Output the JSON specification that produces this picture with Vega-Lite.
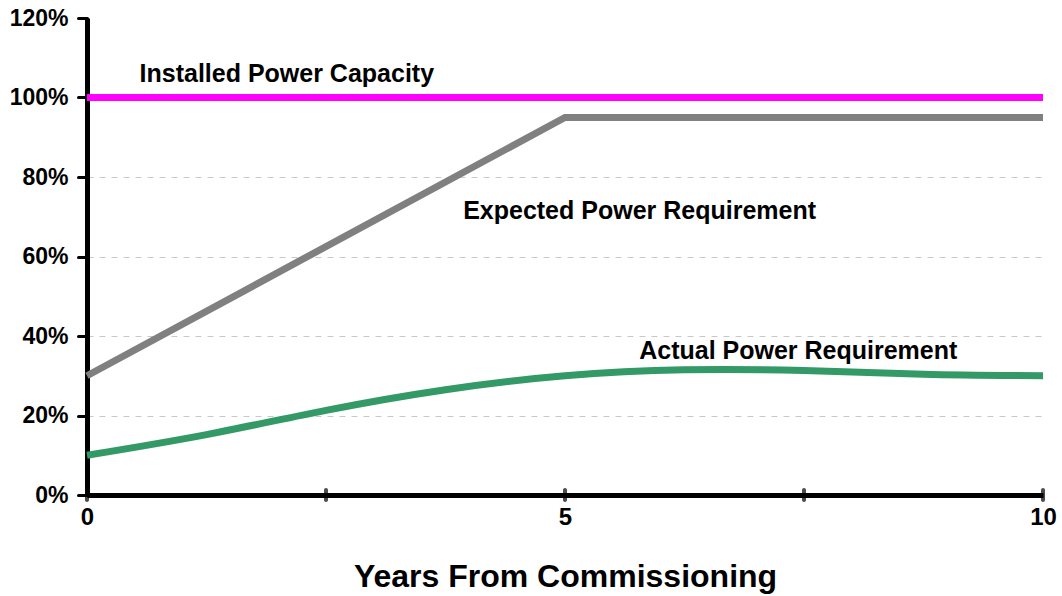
{
  "$schema": "https://vega.github.io/schema/vega-lite/v6.json",
  "autosize": "none",
  "width": 956,
  "height": 477,
  "padding": {"left": 87, "top": 18, "right": 19, "bottom": 101},
  "background": "white",
  "config": {
    "view": {"stroke": null},
    "font": "Liberation Sans"
  },
  "datasets": {
    "lines": [
      {"series": "Installed", "x": 0, "y": 100},
      {"series": "Installed", "x": 10, "y": 100},
      {"series": "Expected", "x": 0, "y": 30},
      {"series": "Expected", "x": 5, "y": 95},
      {"series": "Expected", "x": 10, "y": 95}
    ],
    "actual": [
      {"series": "Actual", "x": 0, "y": 10},
      {"series": "Actual", "x": 1.25, "y": 15.2},
      {"series": "Actual", "x": 2.5, "y": 21.3},
      {"series": "Actual", "x": 3.75, "y": 26.5},
      {"series": "Actual", "x": 5, "y": 30},
      {"series": "Actual", "x": 6.25, "y": 31.5},
      {"series": "Actual", "x": 7.5, "y": 31.3},
      {"series": "Actual", "x": 8.75, "y": 30.4},
      {"series": "Actual", "x": 10, "y": 30}
    ],
    "labels": [
      {"x": 2.09, "y": 106, "text": "Installed Power Capacity"},
      {"x": 5.78, "y": 71.4, "text": "Expected Power Requirement"},
      {"x": 7.44, "y": 36.2, "text": "Actual Power Requirement"}
    ],
    "ticks": [
      {"x": 0, "y": 0},
      {"x": 2.5, "y": 0},
      {"x": 5, "y": 0},
      {"x": 7.5, "y": 0},
      {"x": 10, "y": 0}
    ]
  },
  "layer": [
    {
      "data": {"name": "lines"},
      "mark": {"type": "line", "strokeWidth": 7, "interpolate": "linear", "strokeCap": "butt"},
      "encoding": {
        "x": {
          "field": "x", "type": "quantitative",
          "scale": {"domain": [0, 10], "nice": false, "zero": false},
          "axis": {
            "values": [0, 2.5, 5, 7.5, 10],
            "labelExpr": "datum.value % 5 === 0 ? format(datum.value, 'd') : ''",
            "ticks": false,
            "grid": false,
            "domainColor": "black",
            "domainWidth": 5,
            "labelFont": "Liberation Sans",
            "labelFontWeight": "bold",
            "labelFontSize": 24,
            "labelColor": "black",
            "labelPadding": 10,
            "labelFlush": false,
            "title": "Years From Commissioning",
            "titleFont": "Liberation Sans",
            "titleFontWeight": "bold",
            "titleFontSize": 32,
            "titleColor": "black",
            "titlePadding": 32
          }
        },
        "y": {
          "field": "y", "type": "quantitative",
          "scale": {"domain": [0, 120], "nice": false},
          "axis": {
            "values": [0, 20, 40, 60, 80, 100, 120],
            "labelExpr": "datum.value + '%'",
            "grid": true,
            "gridDash": [6, 6],
            "gridColor": "#c8c8c8",
            "gridWidth": 1,
            "gridOpacity": {"condition": {"test": "datum.value >= 120 || datum.value <= 0", "value": 0}, "value": 1},
            "domainColor": "black",
            "domainWidth": 5,
            "tickColor": "black",
            "tickWidth": 3,
            "tickSize": 9,
            "tickCap": "round",
            "labelFont": "Liberation Sans",
            "labelFontWeight": "bold",
            "labelFontSize": 23,
            "labelColor": "black",
            "labelPadding": 10,
            "title": null
          }
        },
        "color": {
          "field": "series", "type": "nominal",
          "scale": {"domain": ["Installed", "Expected", "Actual"], "range": ["#FF00FF", "#808080", "#339966"]},
          "legend": null
        }
      }
    },
    {
      "data": {"name": "actual"},
      "mark": {"type": "line", "strokeWidth": 7, "interpolate": "natural", "strokeCap": "butt"},
      "encoding": {
        "x": {"field": "x", "type": "quantitative"},
        "y": {"field": "y", "type": "quantitative"},
        "color": {"field": "series", "type": "nominal", "legend": null}
      }
    },
    {
      "data": {"name": "ticks"},
      "mark": {"type": "tick", "orient": "vertical", "size": 14, "thickness": 4, "color": "black", "cornerRadius": 2},
      "encoding": {
        "x": {"field": "x", "type": "quantitative"},
        "y": {"field": "y", "type": "quantitative"}
      }
    },
    {
      "data": {"name": "labels"},
      "mark": {"type": "text", "font": "Liberation Sans", "fontWeight": "bold", "fontSize": 25, "color": "black", "align": "center", "baseline": "middle"},
      "encoding": {
        "x": {"field": "x", "type": "quantitative"},
        "y": {"field": "y", "type": "quantitative"},
        "text": {"field": "text"}
      }
    }
  ]
}
